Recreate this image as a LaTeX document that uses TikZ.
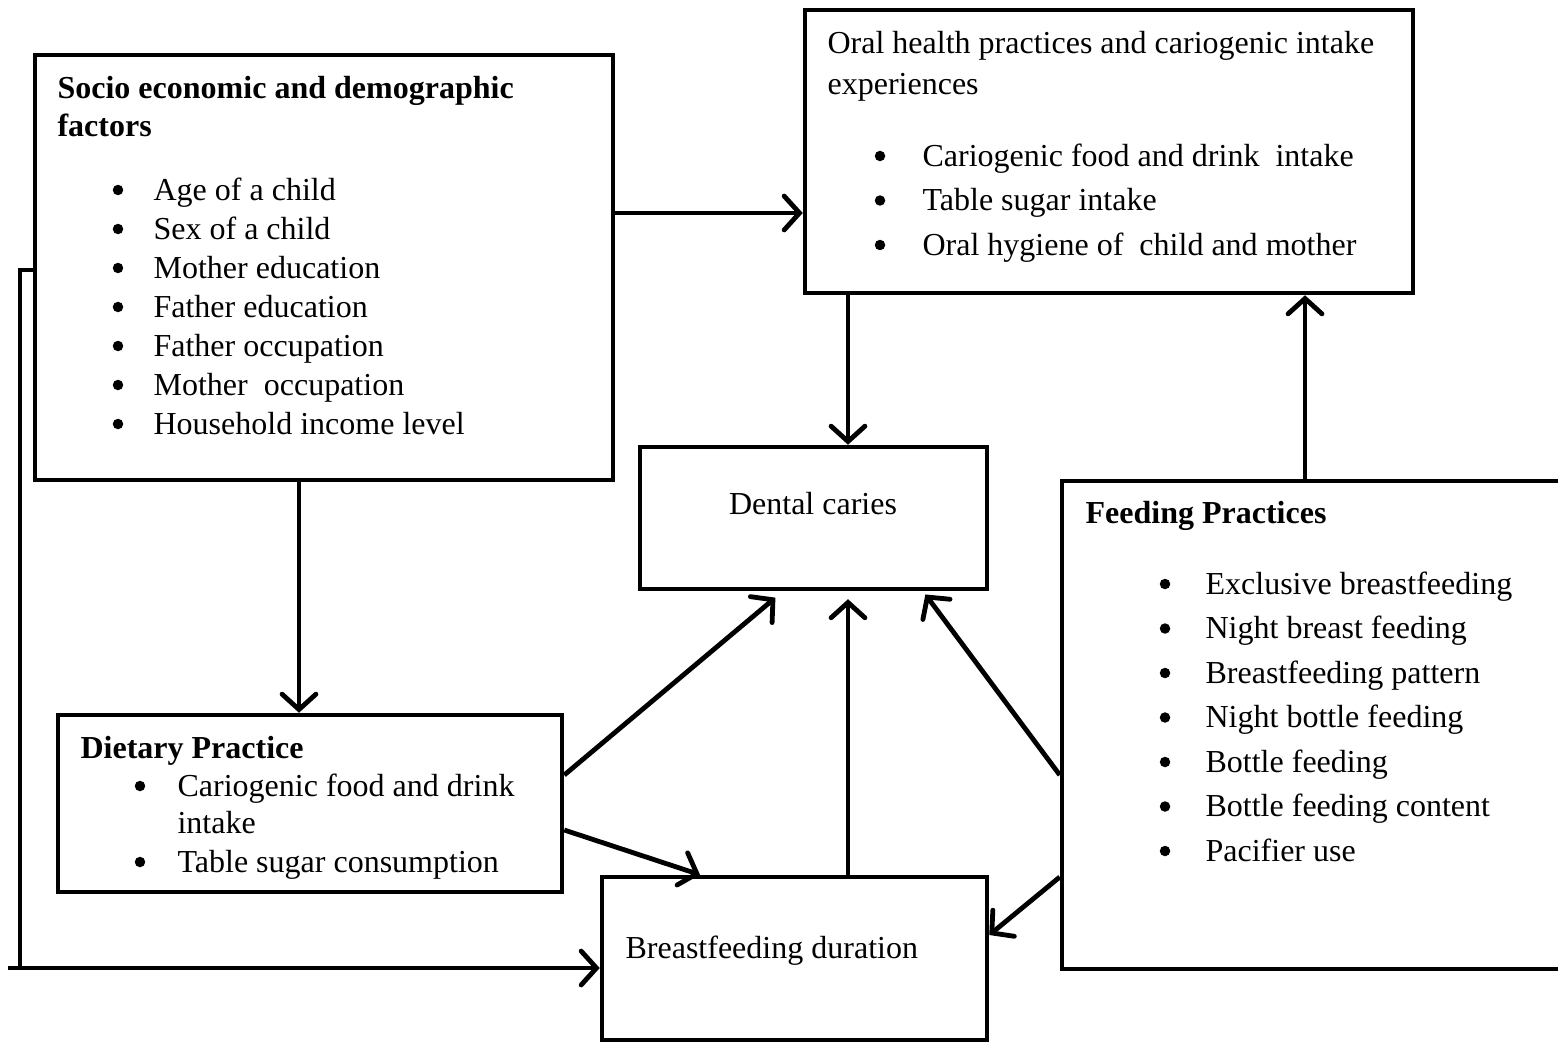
\documentclass[tikz,border=0pt]{standalone}
\usepackage{fontspec}
\setmainfont{Liberation Serif}
\usetikzlibrary{arrows.meta,positioning,fit,calc}
\tikzset{
  >={Straight Barb[length=1.9mm,width=4.2mm,line cap=round]},
  box/.style={draw,line width=1.6pt,inner sep=0pt},
  flow/.style={->,line width=1.7pt},
  txt/.style={anchor=base west,inner sep=0pt,font=\fontsize{11.3}{13.5}\selectfont},
  head/.style={txt,font=\fontsize{11.3}{13.5}\selectfont\bfseries},
  dot/.style={circle,fill,inner sep=0pt,minimum size=3.7pt},
}
\begin{document}
\begin{tikzpicture}[x=0.353pt,y=-0.353pt]
  \useasboundingbox (0,0) rectangle (1558,1042);
  % boxes
  \node[box,fit={(35,55) (613,480)}] (socio) {};
  \node[box,fit={(805,10) (1413,293)}] (oral) {};
  \node[box,fit={(640,447) (987,589)}] (dental) {};
  \node[box,fit={(1062,481) (1590,969)}] (feed) {};
  \node[box,fit={(58,715) (562,892)}] (diet) {};
  \node[box,fit={(602,877) (987,1040)}] (bf) {};
  % texts
  \node[head] (socio-h1) at (57,98) {Socio economic and demographic};
  \node[head] (socio-h2) at (57,136) {factors};
  \foreach \t [count=\i from 0] in {Age of a child,Sex of a child,Mother education,Father education,Father occupation,Mother~ occupation,Household income level}{
    \node[dot] (socio-b\i) at (118,{190+39*\i}) {};
    \node[txt] (socio-t\i) at (153,{200+39*\i}) {\t};
  }
  \node[txt] (oral-h1) at (827,53) {Oral health practices and cariogenic intake};
  \node[txt] (oral-h2) at (827,94) {experiences};
  \foreach \t [count=\i from 0] in {Cariogenic food and drink~ intake,Table sugar intake,Oral hygiene of~ child and mother}{
    \node[dot] (oral-b\i) at (880,{156+44.5*\i}) {};
    \node[txt] (oral-t\i) at (922,{166+44.5*\i}) {\t};
  }
  \node[txt,anchor=base] (dental-t) at (813,514) {Dental caries};
  \node[head] (feed-h) at (1085,523) {Feeding Practices};
  \foreach \t [count=\i from 0] in {Exclusive breastfeeding,Night breast feeding,Breastfeeding pattern,Night bottle feeding,Bottle feeding,Bottle feeding content,Pacifier use}{
    \node[dot] (feed-b\i) at (1165,{584+44.5*\i}) {};
    \node[txt] (feed-t\i) at (1205,{594+44.5*\i}) {\t};
  }
  \node[head] (diet-h) at (80,758) {Dietary Practice};
  \node[dot] (diet-b0) at (140,786) {};
  \node[txt] (diet-t0) at (177,796) {Cariogenic food and drink};
  \node[txt] (diet-t0b) at (177,833) {intake};
  \node[dot] (diet-b1) at (140,862) {};
  \node[txt] (diet-t1) at (177,872) {Table sugar consumption};
  \node[txt] (bf-t) at (625,958) {Breastfeeding duration};
  % rows and columns for connectors
  \coordinate (r213) at (0,213);
  \coordinate (r270) at (0,270);
  \coordinate (r775) at (0,775);
  \coordinate (r830) at (0,830);
  \coordinate (r877) at (0,877);
  \coordinate (r935) at (0,935);
  \coordinate (r968) at (0,968);
  \coordinate (c299) at (299,0);
  \coordinate (c700) at (700,0);
  \coordinate (c783) at (783,0);
  \coordinate (c848) at (848,0);
  \coordinate (c923) at (923,0);
  \coordinate (c1305) at (1305,0);
  \coordinate (bend-top) at (20,270);
  \coordinate (bend-low) at (20,968);
  \coordinate (start-low) at (8,968);
  % connectors
  \draw[flow] (socio.east |- r213) -- (oral.west |- r213);
  \draw[flow] (oral.south -| c848) -- (dental.north -| c848);
  \draw[flow] (feed.north -| c1305) -- (oral.south -| c1305);
  \draw[flow] (socio.south -| c299) -- (diet.north -| c299);
  \draw[flow,shorten >=3.5pt] (diet.east |- r775) -- (dental.south -| c783);
  \draw[flow] (diet.east |- r830) -- (bf.north -| c700);
  \draw[flow,shorten >=2.8pt] (bf.north -| c848) -- (dental.south -| c848);
  \draw[flow,shorten >=1.4pt] (feed.west |- r775) -- (dental.south -| c923);
  \draw[flow] (feed.west |- r877) -- (bf.east |- r935);
  \draw[line width=1.7pt] (socio.west |- r270) -- (bend-top) -- (bend-low);
  \draw[flow] (start-low) -- (bf.west |- r968);
\end{tikzpicture}
\end{document}
